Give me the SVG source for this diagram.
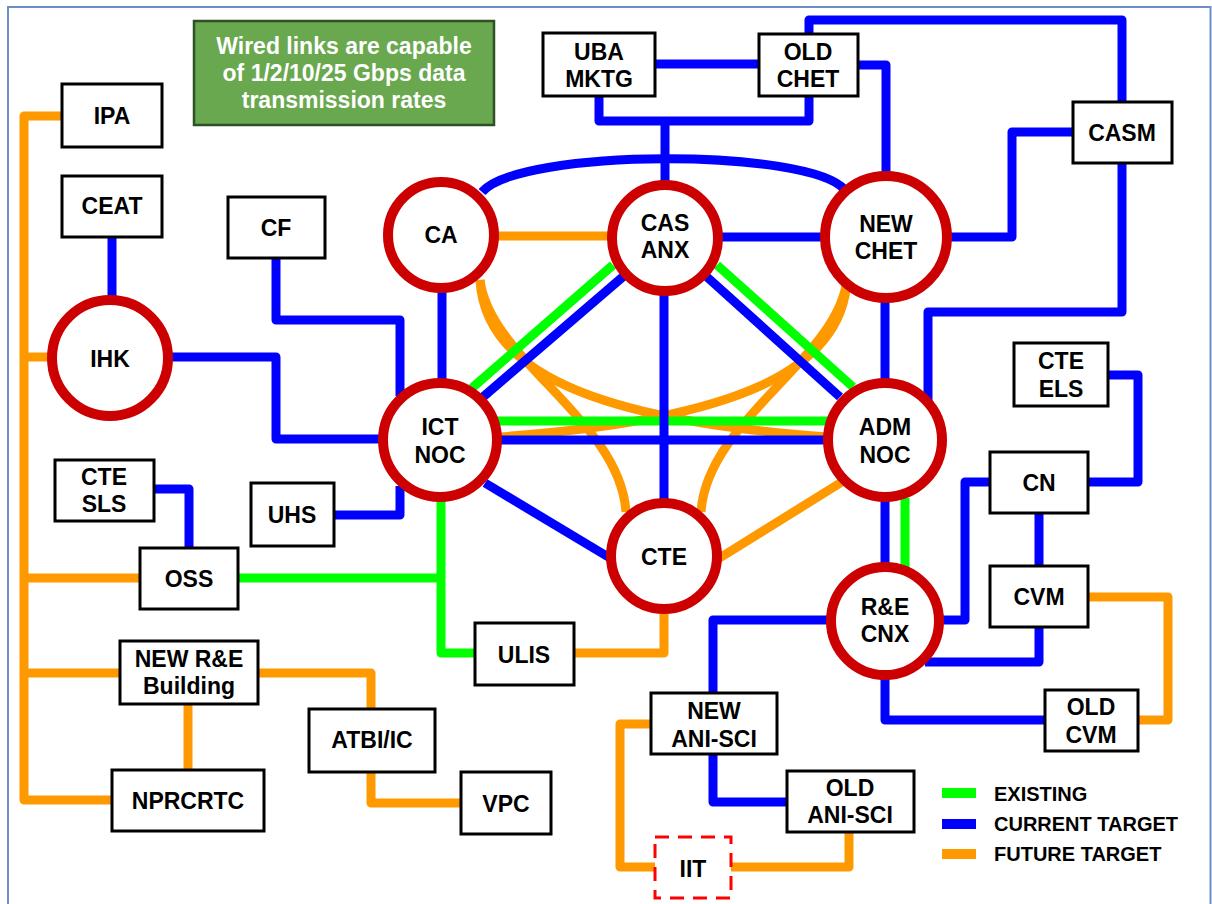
<svg xmlns="http://www.w3.org/2000/svg" width="1212" height="904" viewBox="0 0 1212 904">
<style>
.c path{fill:none;stroke-width:9;stroke-linejoin:round}
.b{stroke:#0000ff}.g{stroke:#00ff00}.o{stroke:#ff9900}
.box rect{fill:#fff;stroke:#000;stroke-width:3}
.hub circle{fill:#fff;stroke:#cc0000;stroke-width:10}
text{font-family:"Liberation Sans",Arial,sans-serif;font-weight:bold;font-size:23px;text-anchor:middle;fill:#000}
.lg text{font-size:20px;text-anchor:start}
.lg line{stroke-width:10}
</style>
<rect x="0" y="0" width="1212" height="904" fill="#fff"/>
<rect x="8" y="7" width="1202.5" height="920" fill="none" stroke="#6d8fc9" stroke-width="2"/>
<g id="note">
<rect x="194" y="21" width="300" height="104" fill="#6aa84f" stroke="#2f4f26" stroke-width="2.5"/>
<text x="344" y="54" style="fill:#fff">Wired links are capable</text>
<text x="344" y="81" style="fill:#fff">of 1/2/10/25 Gbps data</text>
<text x="344" y="108" style="fill:#fff">transmission rates</text>
</g>
<g id="connectors" class="c">
<path class="o" d="M62,116 H24 V800 H112"/>
<path class="o" d="M24,357 H52"/>
<path class="o" d="M24,578 H140"/>
<path class="o" d="M24,673 H120"/>
<path class="o" d="M258,673 H371 V709"/>
<path class="o" d="M188,704 V770"/>
<path class="o" d="M371,772 V803 H461"/>
<path class="o" d="M574,653 H664 V606"/>
<path class="o" d="M718,559 L845,480"/>
<path class="o" d="M495,236 H612"/>
<path class="o" d="M1088,597 H1168 V720 H1138"/>
<path class="o" d="M849,832 V867 H731"/>
<path class="o" d="M651,724 H620 V867 H655"/>
<path class="o" d="M480,280 C490,360 620,420 626,512"/>
<path class="o" d="M480,280 C485,370 590,420 828,437"/>
<path class="o" d="M847,280 C837,360 707,420 701,512"/>
<path class="o" d="M847,280 C842,370 737,420 499,437"/>
<path class="g" d="M613,265 L472,388"/>
<path class="g" d="M717,265 L853,387"/>
<path class="g" d="M496,421 H828"/>
<path class="g" d="M905,498 V570"/>
<path class="g" d="M441,498 V653 H475"/>
<path class="g" d="M238,578 H441"/>
<path class="b" d="M655,64 H759"/>
<path class="b" d="M858,65 H886 V178"/>
<path class="b" d="M599,96 V121 H809 V96"/>
<path class="b" d="M665,121 V184"/>
<path class="b" d="M809,34 V20 H1122 V102"/>
<path class="b" d="M482,192 C520,148 810,148 845,190"/>
<path class="b" d="M720,237 H825"/>
<path class="b" d="M950,237 H1012 V132 H1073"/>
<path class="b" d="M1122,163 V312 H928 V402"/>
<path class="b" d="M885,298 V382"/>
<path class="b" d="M442,290 V382"/>
<path class="b" d="M276,258 V320 H400 V396"/>
<path class="b" d="M168,357 H276 V439 H382"/>
<path class="b" d="M112,237 V300"/>
<path class="b" d="M334,515 H400 V486"/>
<path class="b" d="M154,489 H189 V548"/>
<path class="b" d="M625,275 L483,397"/>
<path class="b" d="M707,277 L840,397"/>
<path class="b" d="M664,294 V502"/>
<path class="b" d="M496,440 H828"/>
<path class="b" d="M485,483 L610,558"/>
<path class="b" d="M885,498 V566"/>
<path class="b" d="M1108,375 H1138 V482 H1088"/>
<path class="b" d="M990,482 H965 V620 H940"/>
<path class="b" d="M1039,513 V566"/>
<path class="b" d="M925,662 H1039 V627"/>
<path class="b" d="M885,676 V720 H1045"/>
<path class="b" d="M830,620 H713 V693"/>
<path class="b" d="M713,754 V802 H787"/>
</g>
<g id="CA" class="hub"><circle cx="441" cy="235" r="53"/><text x="441" y="243">CA</text></g>
<g id="CAS-ANX" class="hub"><circle cx="665" cy="238" r="53"/><text x="665" y="231">CAS</text><text x="665" y="258">ANX</text></g>
<g id="NEW-CHET" class="hub"><circle cx="886" cy="237" r="61"/><text x="886" y="232">NEW</text><text x="886" y="259">CHET</text></g>
<g id="ICT-NOC" class="hub"><circle cx="440" cy="440" r="57"/><text x="440" y="435">ICT</text><text x="440" y="463">NOC</text></g>
<g id="ADM-NOC" class="hub"><circle cx="885" cy="440" r="57"/><text x="885" y="435">ADM</text><text x="885" y="463">NOC</text></g>
<g id="CTE" class="hub"><circle cx="664" cy="556" r="53"/><text x="664" y="565">CTE</text></g>
<g id="RE-CNX" class="hub"><circle cx="885" cy="621" r="54"/><text x="885" y="615">R&amp;E</text><text x="885" y="642">CNX</text></g>
<g id="IHK" class="hub"><circle cx="110" cy="358" r="58"/><text x="110" y="367">IHK</text></g>
<g id="IPA" class="box"><rect x="62" y="84" width="100" height="63"/><text x="112" y="124">IPA</text></g>
<g id="CEAT" class="box"><rect x="62" y="176" width="100" height="61"/><text x="112" y="214">CEAT</text></g>
<g id="CF" class="box"><rect x="228" y="197" width="97" height="61"/><text x="276" y="236">CF</text></g>
<g id="UBA-MKTG" class="box"><rect x="543" y="33" width="112" height="63"/><text x="599" y="60">UBA</text><text x="599" y="87">MKTG</text></g>
<g id="OLD-CHET" class="box"><rect x="759" y="34" width="99" height="62"/><text x="808" y="60">OLD</text><text x="808" y="87">CHET</text></g>
<g id="CASM" class="box"><rect x="1073" y="102" width="99" height="61"/><text x="1122" y="141">CASM</text></g>
<g id="CTE-ELS" class="box"><rect x="1014" y="343" width="94" height="63"/><text x="1061" y="369">CTE</text><text x="1061" y="397">ELS</text></g>
<g id="CN" class="box"><rect x="990" y="452" width="98" height="61"/><text x="1039" y="491">CN</text></g>
<g id="CVM" class="box"><rect x="990" y="566" width="98" height="61"/><text x="1039" y="605">CVM</text></g>
<g id="CTE-SLS" class="box"><rect x="55" y="460" width="99" height="61"/><text x="104" y="485">CTE</text><text x="104" y="512">SLS</text></g>
<g id="UHS" class="box"><rect x="251" y="483" width="83" height="63"/><text x="292" y="523">UHS</text></g>
<g id="OSS" class="box"><rect x="140" y="548" width="98" height="61"/><text x="189" y="587">OSS</text></g>
<g id="NEW-RE-Building" class="box"><rect x="120" y="641" width="138" height="63"/><text x="189" y="667">NEW R&amp;E</text><text x="189" y="694">Building</text></g>
<g id="NPRCRTC" class="box"><rect x="112" y="770" width="152" height="61"/><text x="188" y="809">NPRCRTC</text></g>
<g id="ATBI-IC" class="box"><rect x="309" y="709" width="126" height="63"/><text x="372" y="748">ATBI/IC</text></g>
<g id="VPC" class="box"><rect x="461" y="772" width="90" height="62"/><text x="506" y="812">VPC</text></g>
<g id="ULIS" class="box"><rect x="475" y="623" width="99" height="62"/><text x="524" y="663">ULIS</text></g>
<g id="NEW-ANI-SCI" class="box"><rect x="651" y="693" width="126" height="61"/><text x="714" y="719">NEW</text><text x="714" y="747">ANI-SCI</text></g>
<g id="OLD-ANI-SCI" class="box"><rect x="787" y="771" width="127" height="61"/><text x="850" y="796">OLD</text><text x="850" y="823">ANI-SCI</text></g>
<g id="OLD-CVM" class="box"><rect x="1045" y="690" width="93" height="61"/><text x="1091" y="715">OLD</text><text x="1091" y="743">CVM</text></g>
<g id="IIT"><rect x="655" y="837" width="76" height="61" fill="#fff" stroke="#ff0000" stroke-width="3" stroke-dasharray="14 9"/><text x="693" y="877">IIT</text></g>
<g id="legend" class="lg">
<line x1="942" y1="793" x2="976" y2="793" stroke="#00ff00"/>
<line x1="942" y1="824" x2="976" y2="824" stroke="#0000ff"/>
<line x1="942" y1="854" x2="976" y2="854" stroke="#ff9900"/>
<text x="994" y="801">EXISTING</text>
<text x="994" y="831">CURRENT TARGET</text>
<text x="994" y="861">FUTURE TARGET</text>
</g>
</svg>
